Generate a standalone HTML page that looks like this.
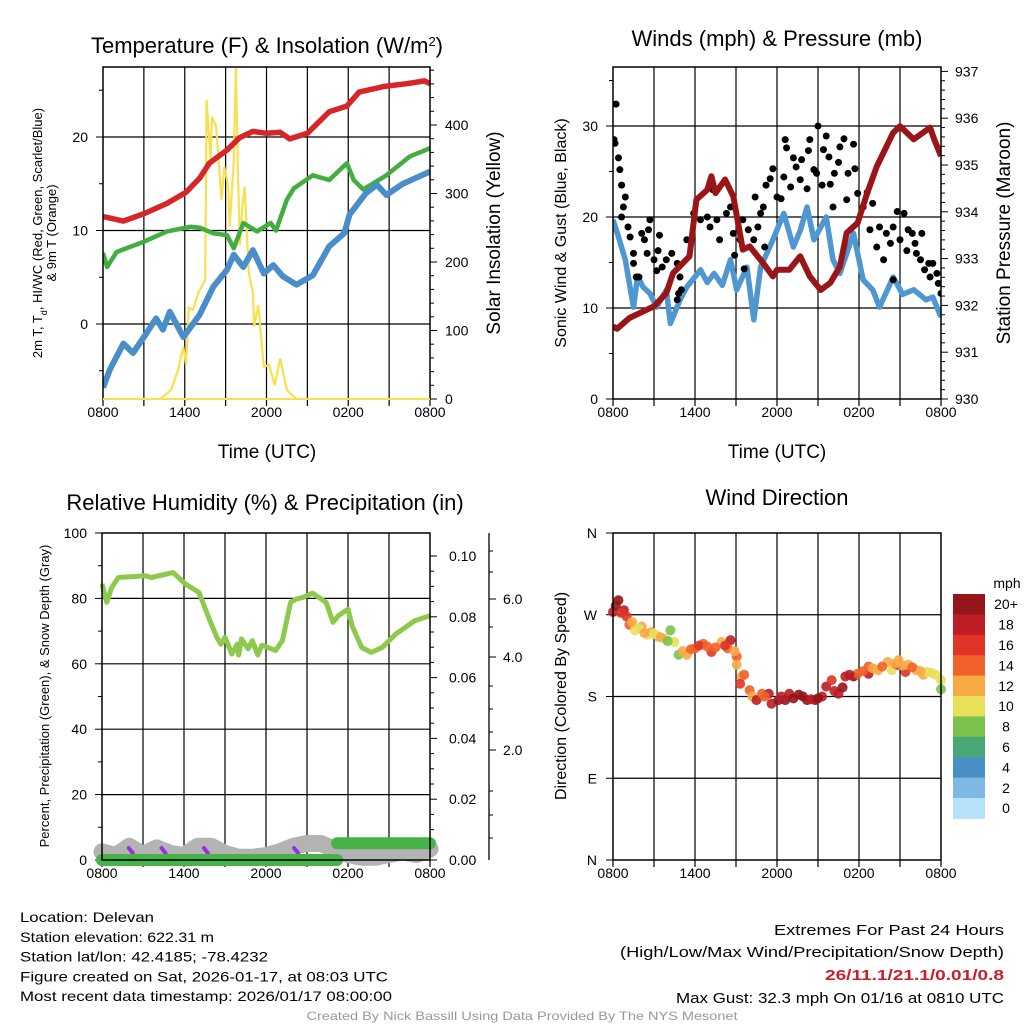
<!DOCTYPE html>
<html><head><meta charset="utf-8"><style>
html,body{margin:0;padding:0;background:#fff;}
svg{display:block;font-family:"Liberation Sans",Arial,sans-serif;}
</style></head><body>
<svg id="fig" width="1024" height="1024" viewBox="0 0 1024 1024" xmlns="http://www.w3.org/2000/svg">
<g id="layer"></g>
</svg>
<script>
// ---------- data ----------
const timeTicks = ["0800","1400","2000","0200","0800"];
// Panel 1: temperature (F) vs hours since 0800
const tempT = [0,1.5,3,4.7,6.1,7.1,7.8,9.1,10,11,12,13,13.7,15,16.6,17.9,18.8,20.6,22.3,23.6,24];
const tempV = [11.5,11,11.8,12.9,14.1,15.6,17.2,18.6,19.9,20.6,20.4,20.5,19.8,20.4,22.7,23.3,24.8,25.4,25.7,26.0,25.7];
const dewT = [0,0.3,1,3,4.7,6.4,7.1,8.1,9.1,9.6,10.3,11.3,12.3,12.7,13.5,14,15.4,16.6,17.9,18.4,19.1,20.8,22.5,24];
const dewV = [7.6,6.1,7.7,8.8,9.9,10.4,10.3,9.7,9.5,8.1,10.8,9.9,10.8,10.0,13.3,14.5,15.9,15.4,17.2,15.4,14.4,15.9,17.9,18.8];
const wcT = [0,0.5,1.5,2.2,3,3.9,4.4,4.9,5.9,7.1,8.1,9.1,9.6,10.3,11,11.8,12.5,13.2,14.2,15.4,16.6,17.7,18.1,19.3,20.1,20.8,22,24];
const wcV = [-6.8,-4.9,-2.1,-3.1,-1.4,0.6,-0.6,1.3,-1.4,1.0,4.0,5.8,7.4,6.1,7.9,5.4,6.3,5.1,4.2,5.2,8.3,9.7,11.7,14.0,14.9,13.8,15.0,16.3];
const solT = [0,4.2,5,5.5,5.9,6.1,6.3,6.6,7,7.5,7.6,7.9,8,8.3,8.7,8.9,9.2,9.3,9.6,9.75,9.9,10.05,10.25,10.4,10.7,11,11.1,11.4,11.8,12.2,12.6,13,13.5,14.2,24];
const solV = [0,0,13,42,76,50,133,130,155,174,437,349,412,398,291,339,310,251,349,485,334,225,286,310,184,155,106,137,47,50,20,59,13,0,0];
// Panel 2: winds & pressure
const presT = [0,0.3,1.2,3,3.9,4.4,5.6,6.1,6.9,7.2,7.5,8.2,8.8,9.5,10,11,11.7,12,12.9,13.7,14.4,15.2,15.9,16.6,17.1,17.9,18.6,19.3,20.5,21,22,23.2,23.5,24];
const presV = [931.55,931.5,931.73,931.98,932.26,932.69,933.05,934.26,934.47,934.76,934.4,934.69,934.33,933.19,933.26,932.9,932.62,932.76,932.76,933.05,932.62,932.33,932.48,932.83,933.55,933.76,934.4,934.97,935.69,935.83,935.55,935.8,935.55,935.19];
const windT = [0,0.4,0.9,1.5,1.8,2.2,2.7,3.2,3.9,4.2,4.9,5.4,6.4,6.9,7.4,8.0,8.6,9.05,9.8,10.3,10.8,11.7,12.5,13.2,13.7,14.2,14.7,15.6,16.1,16.6,17.6,18.3,19,19.5,20.5,21.2,22,22.9,23.4,24];
const windV = [19.7,17.8,15.3,10.1,13.5,12.3,11.6,10.1,12.0,8.3,10.9,12.3,14.2,12.8,13.8,12.5,15.3,12.0,14.5,8.7,14.5,17.5,20.4,16.7,18.5,21.1,17.5,20.0,15.3,13.8,18.2,13.1,12.0,10.1,13.4,11.5,12.0,10.9,11.2,9.0];
const gustT = [0.22,0.07,0.15,0.4,0.5,0.63,0.9,0.76,0.63,1.1,1.25,1.5,1.5,1.7,2.1,2.3,2.6,2.7,2.5,3.0,3.3,3.4,3.6,3.9,4.3,4.7,4.9,4.8,5.0,4.7,5.4,5.9,6.4,6.9,7.1,7.3,7.6,7.8,8.3,8.6,8.8,8.9,9.3,9.5,9.9,10.3,10.4,10.6,10.8,11.0,11.1,11.2,11.5,11.7,12.0,12.3,12.5,12.6,12.7,13.0,13.2,13.4,13.7,13.8,14.2,14.3,14.4,14.7,14.9,15.0,15.3,15.4,15.6,15.8,15.9,16.1,16.2,16.5,16.6,16.9,17.1,17.2,17.6,17.7,17.9,18.3,18.6,18.8,19.0,19.3,19.5,19.8,20.0,20.3,20.5,20.8,21.0,21.3,21.5,21.6,21.9,22.1,22.2,22.5,22.6,22.8,23.1,23.2,23.4,23.7,23.8,24.0,20.5,9.6,3.2,1.9];
const gustV = [32.4,28.5,28.1,26.5,25.2,23.5,22.2,21.1,20.0,18.9,17.8,16.0,14.9,13.4,18.2,17.5,18.6,19.7,16.0,15.3,16.3,18.0,14.5,15.3,16.0,14.9,13.4,11.6,12.0,10.9,17.5,20.4,19.7,20.0,18.9,23.0,19.7,17.5,20.4,21.1,18.2,15.8,17.5,19.7,18.6,17.5,22.2,18.9,20.4,21.1,16.7,23.5,24.2,25.3,22.2,22.0,24.4,28.5,27.6,23.3,26.5,25.5,24.1,26.3,23.1,27.3,28.5,25.2,24.8,30.0,23.5,27.4,28.9,26.6,23.6,21.1,24.8,26.0,27.7,28.6,21.9,24.8,28.0,25.3,22.6,21.1,22.7,18.6,21.5,16.7,18.9,15.3,18.2,17.1,18.9,20.6,17.5,20.4,16.3,18.6,18.2,17.1,16.0,15.3,18.2,14.2,14.9,13.4,14.9,13.8,12.7,11.6,13.1,14.3,14.1,13.4];
// Panel 3: RH, precip, snow
const rhT = [0,0.35,0.7,1.2,3.2,3.6,5.2,6.1,7.1,7.8,8.4,8.7,9.0,9.5,9.9,10.0,10.2,10.7,11.0,11.4,11.7,12.7,13.2,13.8,14.2,14.7,15.4,16.4,16.9,17.3,18.0,18.3,19.0,19.7,20.5,21.5,22.9,24];
const rhV = [84.4,78.8,83.3,86.4,86.9,86.4,87.9,84.4,81.8,74.2,68.1,66,68.1,63.0,66,62.7,67.6,64.6,67.1,62.7,65.7,64.1,67.1,78.8,79.8,80.3,81.6,78.8,72.7,74.7,76.7,71.6,65.0,63.5,65.0,69.1,73.2,74.7];
const precipT = [0,17.2,17.2,24];
const precipV = [0,0,0.0055,0.0055];
const snowT = [0,1,2,3,4,5,6,7,8,9,10,11,12,13,14,15,16,17,18,19,20,21,22,23,24];
const snowV = [0.15,0.08,0.25,0.1,0.22,0.12,0.08,0.25,0.25,0.12,0.05,0.05,0.08,0.15,0.25,0.3,0.3,0.2,0.1,0.05,0.05,0.1,0.15,0.1,0.2];
const purpleT = [2.1,4.5,7.6,14.2];
// Panel 4: wind direction & speed
const dirT = [0,0.4,0.8,1.0,1.2,1.6,2.1,2.5,2.8,3.3,3.8,4.2,4.5,4.8,5.4,6.0,6.6,7.2,7.95,8.6,8.4,9.05,9.05,9.4,9.3,10.0,10.2,10.5,10.9,11.4,11.6,12.1,12.6,12.9,13.6,14.2,14.8,15.3,15.6,16.0,16.5,17.0,17.6,17.9,18.7,18.7,19.4,20.1,20.4,20.8,20.9,21.4,21.6,22.2,22.7,23.0,23.6,24.0,24.0,
  0.2,0.6,1.4,1.9,2.3,3.0,3.5,4.0,5.1,5.7,6.3,6.9,7.5,8.2,8.9,9.6,11.1,12.3,13.2,13.9,14.5,15.0,16.2,16.8,17.3,18.3,19.0,19.7,20.6,21.2,21.9,22.5,23.3];
const dirV = [273,286,275,268,259,253,257,248,251,246,244,253,240,226,226,233,238,229,240,242,233,224,215,202,194,187,180,176,183,183,172,176,176,183,182,176,176,180,191,198,183,202,202,205,205,213,209,218,209,215,220,207,215,209,204,207,204,198,188,
  280,272,262,255,250,249,245,241,230,232,236,235,234,236,230,204,180,180,178,180,177,178,186,190,204,208,211,213,216,214,212,208,206];
const dirS = [18,20,18,16,14,10,12,10,12,12,10,8,10,8,12,14,14,16,12,18,14,14,12,12,16,14,12,18,14,18,18,20,20,18,20,20,20,18,18,16,18,18,20,14,18,14,12,12,10,18,12,16,12,12,12,10,10,10,8,
  20,16,12,10,12,10,12,8,12,14,16,14,14,16,12,14,14,18,20,20,18,20,18,20,18,14,12,14,12,12,14,12,10];
const cbLabels = ["0","2","4","6","8","10","12","14","16","18","20+"];
const cbColors = ["#b5e2f7","#7db9e4","#4a8ec6","#47a876","#7bc24c","#e8e05b","#f8aa45","#f0622a","#df3427","#be1d24","#94151a"];

// ---------- helpers ----------
const NS = "http://www.w3.org/2000/svg";
const root = document.getElementById("layer");
function el(tag, attrs, parent, text){
  const e = document.createElementNS(NS, tag);
  for (const k in attrs) e.setAttribute(k, attrs[k]);
  if (text !== undefined) e.textContent = text;
  (parent || root).appendChild(e);
  return e;
}
function grp(name){
  const g = document.createElementNS(NS,"g");
  
  
  root.appendChild(g);
  return g;
}
function lin(d0,d1,p0,p1){ return v => p0 + (v-d0)/(d1-d0)*(p1-p0); }
function pathFrom(ts, vs, sx, sy){
  return ts.map((t,i)=>(i?"L":"M")+sx(t).toFixed(1)+","+sy(vs[i]).toFixed(1)).join("");
}
function frame(g, x0,y0,x1,y1, sx, gridY){
  for (let h=3; h<24; h+=3){
    const l = el("line",{x1:sx(h),x2:sx(h),y1:y0,y2:y1,stroke:"#000","stroke-width":1.2},g);
    
    
  }
  gridY.forEach(y=>{
    const l = el("line",{x1:x0,x2:x1,y1:y,y2:y,stroke:"#000","stroke-width":1.2},g);
    
    
  });
}
function border(g,x0,y0,x1,y1){
  const r = el("rect",{x:x0,y:y0,width:x1-x0,height:y1-y0,fill:"none",stroke:"#000","stroke-width":1.5},g);
  
  
}
function xAxis(g, sx, yb){
  for (let h=0; h<=24; h+=3){
    el("line",{x1:sx(h),x2:sx(h),y1:yb,y2:yb+7,stroke:"#000","stroke-width":1.2},g);
  }
  timeTicks.forEach((lab,i)=>{
    const t = el("text",{x:sx(i*6),y:yb+18,"text-anchor":"middle","font-size":14},g,lab);
    
    
  });
}
function txt(g,name,x,y,s,attrs){
  const t = el("text",Object.assign({x:x,y:y},attrs),g,s);
  
  
  return t;
}

// ================= Panel 1 =================
(function(){
  const g = grp("temperature-panel");
  const X0=103,X1=430,Y0=67,Y1=399;
  const sx = lin(0,24,X0,X1);
  const sy = lin(0,10,324,230.5);
  const sI = lin(0,100,399,330.5);
  frame(g,X0,Y0,X1,Y1,sx,[sy(0),sy(10),sy(20)]);
  for (let v=-5; v<=25; v+=5){
    el("line",{x1:X0-(v%10===0?7:4),x2:X0,y1:sy(v),y2:sy(v),stroke:"#000","stroke-width":1},g);
  }
  [0,10,20].forEach(v=>txt(g,"y-tick-label",88,sy(v)+5,String(v),{"text-anchor":"end","font-size":14}));
  for (let v=0; v<=480; v+=20){
    el("line",{x1:X1,x2:X1+(v%100===0?7:4),y1:sI(v),y2:sI(v),stroke:"#000","stroke-width":1},g);
  }
  [0,100,200,300,400].forEach(v=>txt(g,"y2-tick-label",445,sI(v)+5,String(v),{"font-size":14}));
  xAxis(g,sx,Y1);
  const clip = el("clipPath",{id:"c1"},g); el("rect",{x:X0,y:Y0,width:X1-X0,height:Y1-Y0},clip);
  const d = el("g",{"clip-path":"url(#c1)"},g);
  const s1 = el("path",{d:pathFrom(solT,solV,sx,sI),fill:"none",stroke:"#f9e04f","stroke-width":2.2},d);
   
  const s2 = el("path",{d:pathFrom(tempT,tempV,sx,sy),fill:"none",stroke:"#d7262a","stroke-width":5.5,"stroke-linejoin":"round"},d);
   
  const s3 = el("path",{d:pathFrom(dewT,dewV,sx,sy),fill:"none",stroke:"#43ad40","stroke-width":4.5,"stroke-linejoin":"round"},d);
   
  const s4 = el("path",{d:pathFrom(wcT,wcV,sx,sy),fill:"none",stroke:"#4a8ec9","stroke-width":6,"stroke-linejoin":"round"},d);
   
  border(g,X0,Y0,X1,Y1);
  el("line",{x1:X0,x2:X1,y1:Y1,y2:Y1,stroke:"#f9e04f","stroke-width":2},g);
  const tt = txt(g,"chart-title",267,53,"Temperature (F) & Insolation (W/m",{"text-anchor":"middle","font-size":22});
  el("tspan",{"baseline-shift":"super","font-size":13},tt,"2");
  el("tspan",{},tt,")");
  txt(g,"x-axis-title",267,458,"Time (UTC)",{"text-anchor":"middle","font-size":19});
  const yl = txt(g,"y-axis-title",0,0,"",{"text-anchor":"middle","font-size":13,transform:"translate(42,233) rotate(-90)"});
  el("tspan",{},yl,"2m T, T");
  el("tspan",{"baseline-shift":"sub","font-size":9},yl,"d");
  el("tspan",{},yl,", HI/WC (Red, Green, Scarlet/Blue)");
  txt(g,"y-axis-title-line2",0,0,"& 9m T (Orange)",{"text-anchor":"middle","font-size":13,transform:"translate(56,233) rotate(-90)"});
  txt(g,"y2-axis-title",0,0,"Solar Insolation (Yellow)",{"text-anchor":"middle","font-size":19,transform:"translate(500,233) rotate(-90)"});
})();

// ================= Panel 2 =================
(function(){
  const g = grp("winds-pressure-panel");
  const X0=613,X1=941,Y0=67,Y1=399;
  const sx = lin(0,24,X0,X1);
  const sy = lin(0,10,399,308);
  const sp = lin(930,931,399,352.2);
  frame(g,X0,Y0,X1,Y1,sx,[sy(10),sy(20),sy(30)]);
  for (let v=0; v<=35; v+=5){
    el("line",{x1:X0-(v%10===0?7:4),x2:X0,y1:sy(v),y2:sy(v),stroke:"#000","stroke-width":1},g);
  }
  [0,10,20,30].forEach(v=>txt(g,"y-tick-label",598,sy(v)+5,String(v),{"text-anchor":"end","font-size":14}));
  for (let v=930; v<=937.01; v+=0.2){
    const major = Math.abs(v-Math.round(v))<0.01;
    el("line",{x1:X1,x2:X1+(major?7:4),y1:sp(v),y2:sp(v),stroke:"#000","stroke-width":1},g);
  }
  for (let v=930; v<=937; v++) txt(g,"y2-tick-label",955,sp(v)+5,String(v),{"font-size":14});
  xAxis(g,sx,Y1);
  const clip = el("clipPath",{id:"c2"},g); el("rect",{x:X0,y:Y0,width:X1-X0,height:Y1-Y0},clip);
  const d = el("g",{"clip-path":"url(#c2)"},g);
  const w = el("path",{d:pathFrom(windT,windV,sx,sy),fill:"none",stroke:"#4f97d1","stroke-width":5.5,"stroke-linejoin":"round"},d);
   
  gustT.forEach((t,i)=>{
    const c = el("circle",{cx:sx(t),cy:sy(gustV[i]),r:3.5,fill:"#000"},d);
    
    
  });
  const p = el("path",{d:pathFrom(presT,presV,sx,sp),fill:"none",stroke:"#9a1518","stroke-width":6,"stroke-linejoin":"round"},d);
   
  border(g,X0,Y0,X1,Y1);
  txt(g,"chart-title",777,46,"Winds (mph) & Pressure (mb)",{"text-anchor":"middle","font-size":22});
  txt(g,"x-axis-title",777,458,"Time (UTC)",{"text-anchor":"middle","font-size":19});
  txt(g,"y-axis-title",0,0,"Sonic Wind & Gust (Blue, Black)",{"text-anchor":"middle","font-size":16,transform:"translate(566,233) rotate(-90)"});
  txt(g,"y2-axis-title",0,0,"Station Pressure (Maroon)",{"text-anchor":"middle","font-size":19,transform:"translate(1010,233) rotate(-90)"});
})();

// ================= Panel 3 =================
(function(){
  const g = grp("humidity-precip-panel");
  const X0=102,X1=430,Y0=533,Y1=860;
  const sx = lin(0,24,X0,X1);
  const sy = lin(0,100,Y1,Y0);
  const sP = lin(0,0.10,Y1,556);
  const sS = lin(0,0.8,Y1,816);
  frame(g,X0,Y0,X1,Y1,sx,[sy(20),sy(40),sy(60),sy(80)]);
  for (let v=0; v<=100; v+=10){
    el("line",{x1:X0-(v%20===0?7:4),x2:X0,y1:sy(v),y2:sy(v),stroke:"#000","stroke-width":1},g);
  }
  [0,20,40,60,80,100].forEach(v=>txt(g,"y-tick-label",87,sy(v)+5,String(v),{"text-anchor":"end","font-size":14}));
  for (let v=0; v<=0.1001; v+=0.005){
    const major = Math.abs(v*50-Math.round(v*50))<0.01;
    el("line",{x1:X1,x2:X1+(major?7:4),y1:sP(v),y2:sP(v),stroke:"#000","stroke-width":1},g);
  }
  ["0.00","0.02","0.04","0.06","0.08","0.10"].forEach((s,i)=>txt(g,"precip-tick-label",449,sP(i*0.02)+5,s,{"font-size":14}));
  el("line",{x1:489,x2:489,y1:533,y2:860,stroke:"#000","stroke-width":1.3},g);
  [[6.0,599],[4.0,657],[2.0,750]].forEach(a=>{
    el("line",{x1:489,x2:496,y1:a[1],y2:a[1],stroke:"#000","stroke-width":1},g);
    txt(g,"snow-tick-label",503,a[1]+5,a[0].toFixed(1),{"font-size":14});
  });
  [551,572,627,686,709,732,791,815,838].forEach(y=>el("line",{x1:489,x2:493,y1:y,y2:y,stroke:"#000","stroke-width":1},g));
  xAxis(g,sx,Y1);
  const clip = el("clipPath",{id:"c3"},g); el("rect",{x:X0-12,y:Y0,width:X1-X0+24,height:Y1-Y0+14},clip);
  const d = el("g",{"clip-path":"url(#c3)"},g);
  const sn = el("path",{d:pathFrom(snowT,snowV,sx,sS),fill:"none",stroke:"#b3b3b3","stroke-width":17,"stroke-linecap":"round","stroke-linejoin":"round"},d);
   
  purpleT.forEach(t=>{
    const pp = el("path",{d:"M"+(sx(t)-2)+","+(Y1-12)+"L"+(sx(t)+2)+","+(Y1-7),stroke:"#9a2ee6","stroke-width":4,"stroke-linecap":"round"},d);
     
  });
  const pr = el("path",{d:"M"+sx(precipT[0])+","+sP(precipV[0])+"L"+sx(precipT[1])+","+sP(precipV[1])+"M"+sx(precipT[2])+","+sP(precipV[2])+"L"+sx(precipT[3])+","+sP(precipV[3]),fill:"none",stroke:"#47b247","stroke-width":12,"stroke-linecap":"round"},d);
   
  const rh = el("path",{d:pathFrom(rhT,rhV,sx,sy),fill:"none",stroke:"#8dc94a","stroke-width":5,"stroke-linejoin":"round"},d);
   
  border(g,X0,Y0,X1,Y1);
  txt(g,"chart-title",265,510,"Relative Humidity (%) & Precipitation (in)",{"text-anchor":"middle","font-size":22});
  txt(g,"y-axis-title",0,0,"Percent, Precipitation (Green), & Snow Depth (Gray)",{"text-anchor":"middle","font-size":13,transform:"translate(49,696) rotate(-90)"});
})();

// ================= Panel 4 =================
(function(){
  const g = grp("wind-direction-panel");
  const X0=613,X1=941,Y0=533,Y1=860;
  const sx = lin(0,24,X0,X1);
  const sy = lin(0,360,Y1,Y0);
  frame(g,X0,Y0,X1,Y1,sx,[sy(90),sy(180),sy(270)]);
  ["N","E","S","W","N"].forEach((s,i)=>{
    el("line",{x1:X0-7,x2:X0,y1:sy(i*90),y2:sy(i*90),stroke:"#000","stroke-width":1},g);
    txt(g,"y-tick-label",597,sy(i*90)+5,s,{"text-anchor":"end","font-size":14});
  });
  xAxis(g,sx,Y1);
  dirT.forEach((t,i)=>{
    const idx = Math.min(10,Math.max(0,Math.round(dirS[i]/2)));
    const c = el("circle",{cx:sx(t),cy:sy(dirV[i]),r:5,fill:cbColors[idx],"fill-opacity":0.9},g);
    
    
  });
  border(g,X0,Y0,X1,Y1);
  txt(g,"chart-title",777,505,"Wind Direction",{"text-anchor":"middle","font-size":22});
  txt(g,"y-axis-title",0,0,"Direction (Colored By Speed)",{"text-anchor":"middle","font-size":16,transform:"translate(566,696) rotate(-90)"});
  const cb = grp("speed-colorbar");
  const h = 20.4, top = 594;
  cbColors.forEach((c,i)=>{
    const k = 10-i;
    const r = el("rect",{x:953,y:top+i*h,width:32,height:h+0.5,fill:cbColors[k]},cb);
    
    
    txt(cb,"colorbar-label",1006,top+i*h+h/2+5,cbLabels[k],{"text-anchor":"middle","font-size":14});
  });
  txt(cb,"colorbar-unit",1007,588,"mph",{"text-anchor":"middle","font-size":14});
})();

// ================= Footer text =================
(function(){
  const g = grp("station-info");
  const lines = ["Location: Delevan","Station elevation: 622.31 m","Station lat/lon: 42.4185; -78.4232","Figure created on Sat, 2026-01-17, at 08:03 UTC","Most recent data timestamp: 2026/01/17 08:00:00"];
  const widths = [134,194,248,368,372];
  lines.forEach((s,i)=>txt(g,"info-line",20,922+i*19.8,s,{"font-size":14,textLength:widths[i],lengthAdjust:"spacingAndGlyphs"}));
  const g2 = grp("extremes-summary");
  txt(g2,"extremes-title",1004,935,"Extremes For Past 24 Hours",{"text-anchor":"end","font-size":15,textLength:230,lengthAdjust:"spacingAndGlyphs"});
  txt(g2,"extremes-subtitle",1004,957,"(High/Low/Max Wind/Precipitation/Snow Depth)",{"text-anchor":"end","font-size":15,textLength:384,lengthAdjust:"spacingAndGlyphs"});
  txt(g2,"extremes-values",1004,980,"26/11.1/21.1/0.01/0.8",{"text-anchor":"end","font-size":15,"font-weight":"bold",fill:"#c8202a",textLength:179,lengthAdjust:"spacingAndGlyphs"});
  txt(g2,"max-gust",1004,1003,"Max Gust: 32.3 mph On 01/16 at 0810 UTC",{"text-anchor":"end","font-size":15,textLength:328,lengthAdjust:"spacingAndGlyphs"});
  txt(grp("credit"),"credit-line",522,1020,"Created By Nick Bassill Using Data Provided By The NYS Mesonet",{"text-anchor":"middle","font-size":12,fill:"#999",textLength:431,lengthAdjust:"spacingAndGlyphs"});
})();
</script>
</body></html>
